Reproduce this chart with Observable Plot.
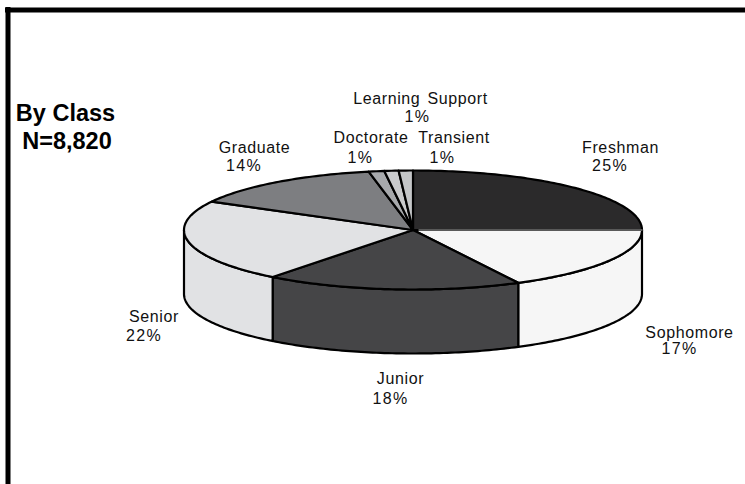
<!DOCTYPE html>
<html>
<head>
<meta charset="utf-8">
<script src="https://cdn.jsdelivr.net/npm/d3@7"></script>
<script src="https://cdn.jsdelivr.net/npm/@observablehq/plot@0.6"></script>
<style>
html,body{margin:0;padding:0;background:#fff;overflow:hidden}
svg{display:block}
.names text{letter-spacing:.62px;word-spacing:2px}
.pcts text{letter-spacing:1.4px}
</style>
</head>
<body>
<div id="chart"></div>
<script>
const categories = ["Freshman","Sophomore","Junior","Senior","Graduate","Doctorate","Learning Support","Transient"];
const shares = [25, 17.4, 18.1, 22.4, 14, 1.1, 1, 1];
const percentLabels = ["25%","17%","18%","22%","14%","1%","1%","1%"];
const sliceColors = ["#2b2a2b","#f6f6f6","#454547","#e1e2e4","#7d7e81","#a7a9ac","#c9cacc","#c4c6c8"];
const titleLines = ["By Class","N=8,820"];

// Layout of the pie and its annotations, in picture units
const pie = {cx: 412.5, cy: 229.5, rx: 229, ry: 59.5, depth: 64};
const namePlacement = [[620,147],[689,332],[400,378],[153.5,316],[254,147],[370.5,137],[420,98],[453.5,137]];
const percentPlacement = [[609.5,165],[679,348],[390,398],[143.5,335],[243.5,165],[360,157],[417,116],[442,157]];
const titlePlacement = [[65,113],[66.5,141]];

const toRad = a => a * Math.PI / 180;
const rim = (a, drop = 0) => ({x: pie.cx + pie.rx * Math.sin(toRad(a)), y: pie.cy - pie.ry * Math.cos(toRad(a)) + drop});
const arc = (a0, a1, drop = 0) => {
  const n = Math.max(1, Math.ceil(Math.abs(a1 - a0)));
  return d3.range(n + 1).map(i => rim(a0 + (a1 - a0) * i / n, drop));
};

let acc = 0;
const slices = shares.map((s, i) => {
  const a0 = acc * 3.6; acc += s;
  return {name: categories[i], a0, a1: acc * 3.6, color: sliceColors[i]};
});

const outline = {x: "x", y: "y", stroke: "#000", strokeWidth: 2.2, strokeLinejoin: "round"};
const sideMarks = slices
  .filter(s => s.a1 > 90 && s.a0 < 270)
  .map(s => {
    const a0 = Math.max(s.a0, 90), a1 = Math.min(s.a1, 270);
    const pts = [...arc(a0, a1, 0), ...arc(a1, a0, pie.depth)];
    pts.push(pts[0]);
    return Plot.line(pts, {...outline, fill: s.color});
  });
const topMarks = slices.map(s => {
  const pts = [{x: pie.cx, y: pie.cy}, ...arc(s.a0, s.a1), {x: pie.cx, y: pie.cy}];
  return Plot.line(pts, {...outline, fill: s.color});
});
// the Freshman / Sophomore seam reads as a thin grey line in the reference
const seam = Plot.line([{x: pie.cx + 6, y: pie.cy}, rim(slices[0].a1)], {x: "x", y: "y", stroke: "#777", strokeWidth: 1.4});

const textStyle = {x: d => d.p[0], y: d => d.p[1], text: "t", fill: "#111", textAnchor: "middle", frameAnchor: "middle"};
const names = categories.map((t, i) => ({t, p: namePlacement[i]}));
const pcts = percentLabels.map((t, i) => ({t, p: percentPlacement[i]}));
const titles = titleLines.map((t, i) => ({t, p: titlePlacement[i]}));

const plot = Plot.plot({
  width: 745, height: 484,
  margin: 0,
  x: {domain: [0, 745], range: [0, 745], axis: null},
  y: {domain: [0, 484], range: [0, 484], axis: null},
  style: {fontFamily: "'Liberation Sans', Arial, sans-serif", background: "#fff"},
  marks: [
    Plot.ruleY([9.5], {x1: 5, x2: 745, stroke: "#000", strokeWidth: 5}),
    Plot.ruleX([7.5], {y1: 7, y2: 484, stroke: "#000", strokeWidth: 5}),
    ...sideMarks,
    ...topMarks,
    seam,
    Plot.text(names, {...textStyle, fontSize: 16, className: "names"}),
    Plot.text(pcts, {...textStyle, fontSize: 16, className: "pcts"}),
    Plot.text(titles, {...textStyle, fontSize: 23.5, fontWeight: "bold", fill: "#000"})
  ]
});
document.getElementById("chart").append(plot);
</script>
</body>
</html>
